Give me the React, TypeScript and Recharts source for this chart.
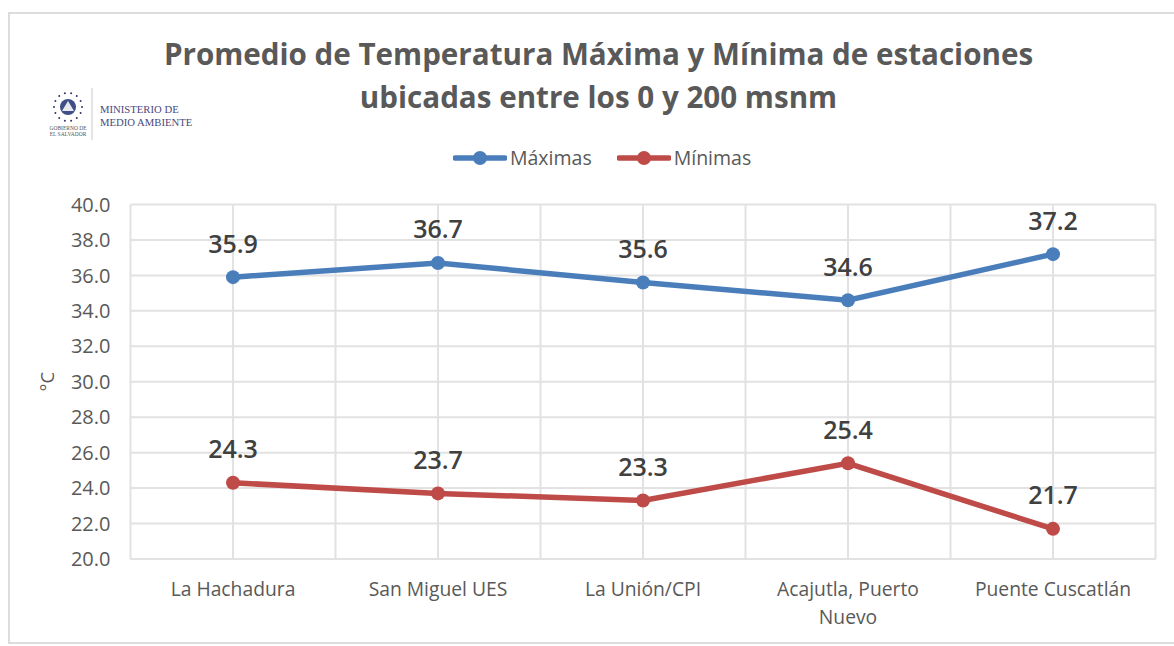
import { CartesianGrid, Label, LabelList, Legend, Line, LineChart, XAxis, YAxis } from "recharts";

// ─── DATA ────────────────────────────────────────────────────────────
const stations = ["La Hachadura", "San Miguel UES", "La Unión/CPI", "Acajutla, Puerto\nNuevo", "Puente Cuscatlán"];
const maximas = [35.9, 36.7, 35.6, 34.6, 37.2];
const minimas = [24.3, 23.7, 23.3, 25.4, 21.7];
const yTicks = [20, 22, 24, 26, 28, 30, 32, 34, 36, 38, 40];
const titleLines = ["Promedio de Temperatura Máxima y Mínima de estaciones", "ubicadas entre los 0 y 200 msnm"];

const rows = stations.map((station, i) => ({ station, maximas: maximas[i], minimas: minimas[i] }));

const FONT = "'Open Sans', sans-serif";
const BLUE = "#4a7ebb";
const RED = "#be4b48";
const GRID = "#e2e2e2";

// x axis labels can hold a line break
function StationTick({ x, y, payload }: any) {
  const parts = String(payload.value).split("\n");
  return (
    <text x={x} y={y} textAnchor="middle" fontFamily={FONT} fontSize={19.3} fill="#595959">
      {parts.map((p, i) => (
        <tspan key={p} x={x} dy={i === 0 ? 29 : 28}>
          {p}
        </tspan>
      ))}
    </text>
  );
}

function SeriesLegend({ payload }: any) {
  return (
    <div style={{ display: "flex", alignItems: "center", fontFamily: FONT, fontSize: 19.5, color: "#595959" }}>
      {(payload ?? []).map((p: any) => (
        <div key={p.value} style={{ display: "flex", alignItems: "center", marginRight: 25 }}>
          <svg width={54} height={16} style={{ marginRight: 3 }}>
            <line x1={2} y1={8} x2={52} y2={8} stroke={p.color} strokeWidth={5.5} strokeLinecap="round" />
            <circle cx={27} cy={8} r={7} fill={p.color} />
          </svg>
          <span>{p.value}</span>
        </div>
      ))}
    </div>
  );
}

// small seal + ministry name, top left
function Logo() {
  const stars = Array.from({ length: 14 }, (_, i) => (i / 14) * Math.PI * 2);
  return (
    <div style={{ position: "absolute", left: 49, top: 88, width: 150, height: 52 }}>
      <svg width={46} height={52} style={{ position: "absolute", left: 0, top: 0 }}>
        {stars.map((a) => (
          <circle key={a} cx={19 + Math.cos(a) * 14} cy={19 + Math.sin(a) * 14} r={1} fill="#33336b" />
        ))}
        <circle cx={19} cy={19} r={8} fill="#3f4f86" />
        <path d="M19 13 L25 23 L13 23 Z" fill="#e8e8ee" />
        <line x1={43} y1={0} x2={43} y2={52} stroke="#c9c9c9" strokeWidth={1} />
        <text x={19} y={42} textAnchor="middle" fontFamily="'Liberation Serif', serif" fontSize={5.5} fill="#555">
          GOBIERNO DE
        </text>
        <text x={19} y={48} textAnchor="middle" fontFamily="'Liberation Serif', serif" fontSize={5.5} fill="#555">
          EL SALVADOR
        </text>
      </svg>
      <div
        style={{
          position: "absolute",
          left: 51,
          top: 15,
          fontFamily: "'Liberation Serif', serif",
          fontSize: 10.7,
          lineHeight: "12.5px",
          color: "#4a4a7c",
          whiteSpace: "nowrap",
        }}
      >
        MINISTERIO DE
        <br />
        MEDIO AMBIENTE
      </div>
    </div>
  );
}

export default function App() {
  return (
    <div style={{ position: "absolute", left: 0, top: 0, width: 1174, height: 646, background: "#fff", overflow: "hidden" }}>
      {/* chart frame */}
      <div
        style={{
          position: "absolute",
          left: 8,
          top: 12,
          width: 1180,
          height: 632,
          border: "2px solid #dcdcdc",
          boxSizing: "border-box",
        }}
      />
      <div
        style={{
          position: "absolute",
          left: 0,
          top: 32,
          width: 1197,
          textAlign: "center",
          fontFamily: FONT,
          fontWeight: 700,
          fontSize: 29.6,
          lineHeight: "43px",
          color: "#595959",
        }}
      >
        {titleLines.map((t) => (
          <div key={t}>{t}</div>
        ))}
      </div>
      <Logo />
      <div style={{ position: "absolute", left: 0, top: 0 }}>
        <LineChart
          width={1174}
          height={646}
          data={rows}
          margin={{ top: 204.5, right: 18.5, bottom: 0, left: 70.5 }}
        >
          <CartesianGrid
            stroke={GRID}
            strokeWidth={2}
            verticalCoordinatesGenerator={({ offset }: any) =>
              Array.from({ length: stations.length * 2 + 1 }, (_, i) => offset.left + (offset.width * i) / (stations.length * 2))
            }
          />
          <XAxis
            dataKey="station"
            height={60}
            interval={0}
            padding={{ left: 102.5, right: 102.5 }}
            axisLine={{ stroke: GRID, strokeWidth: 2 }}
            tickLine={false}
            tick={<StationTick />}
          />
          <YAxis
            width={60}
            domain={[20, 40]}
            ticks={yTicks}
            interval={0}
            axisLine={false}
            tickLine={false}
            tickMargin={14}
            tickFormatter={(v: number) => v.toFixed(1)}
            tick={{ fontFamily: FONT, fontSize: 20, fill: "#595959" }}
          >
            <Label
              value="°C"
              angle={-90}
              position="insideLeft"
              offset={-23}
              style={{ fontFamily: FONT, fontSize: 18.5, fill: "#595959", textAnchor: "middle" }}
            />
          </YAxis>
          <Legend
            layout="vertical"
            align="center"
            content={<SeriesLegend />}
            wrapperStyle={{ position: "absolute", left: 453, top: 144, width: "auto" }}
          />
          {[
            { key: "maximas", name: "Máximas", color: BLUE },
            { key: "minimas", name: "Mínimas", color: RED },
          ].map((s) => (
            <Line
              key={s.key}
              dataKey={s.key}
              name={s.name}
              stroke={s.color}
              strokeWidth={5.5}
              dot={{ r: 7, fill: s.color, stroke: s.color, strokeWidth: 0 }}
              isAnimationActive={false}
            >
              <LabelList
                dataKey={s.key}
                position="top"
                offset={24.5}
                formatter={(v: number) => v.toFixed(1)}
                style={{ fontFamily: FONT, fontWeight: 600, fontSize: 25, fill: "#404040" }}
              />
            </Line>
          ))}
        </LineChart>
      </div>
    </div>
  );
}
